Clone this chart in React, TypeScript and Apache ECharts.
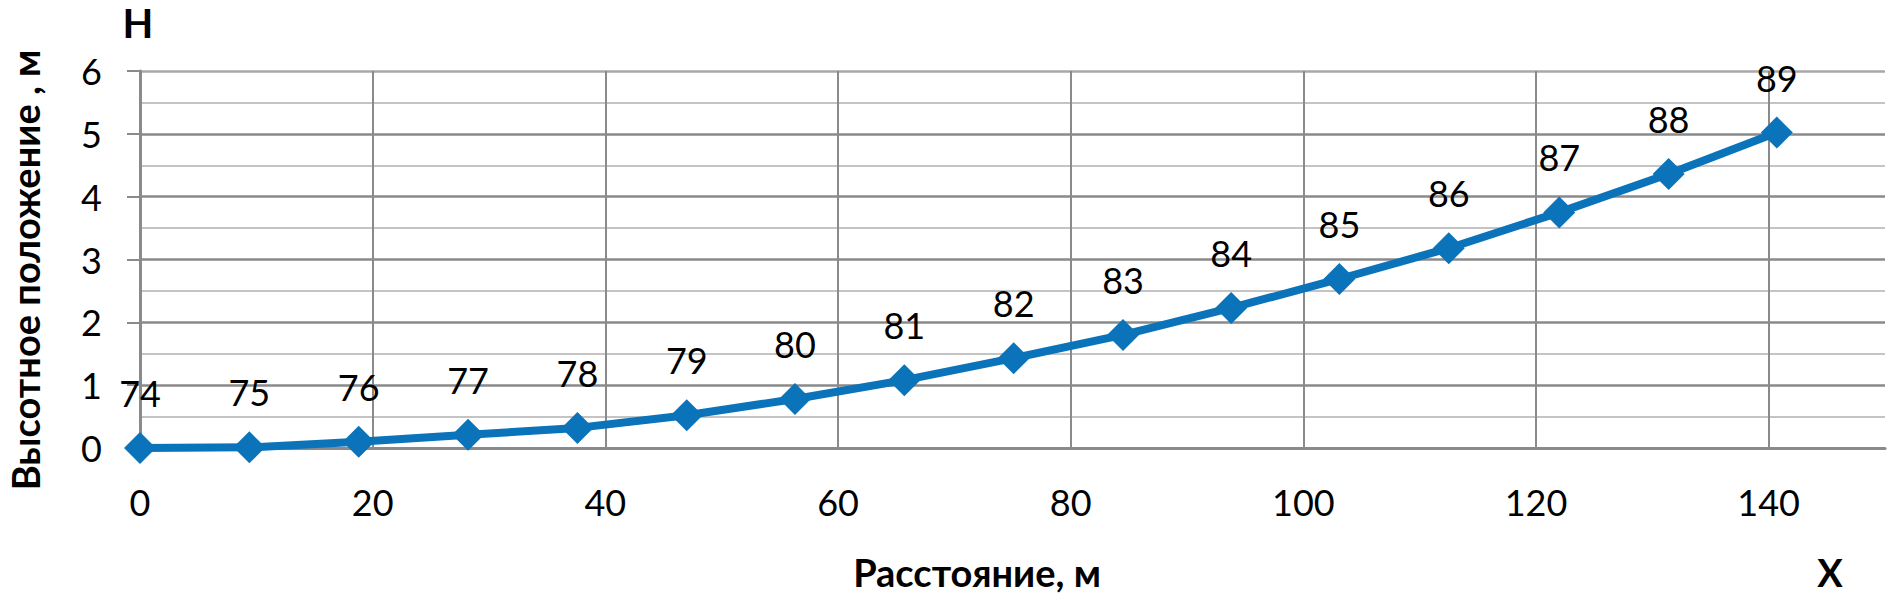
import React, { useEffect, useRef } from "react";
import * as echarts from "echarts";

const distances = [0, 9.4, 18.8, 28.2, 37.6, 47.0, 56.3, 65.7, 75.1, 84.5, 93.8, 103.1, 112.5, 122.0, 131.4, 140.7];
const heights = [0, 0.01, 0.1, 0.21, 0.32, 0.52, 0.78, 1.08, 1.43, 1.8, 2.23, 2.69, 3.18, 3.75, 4.36, 5.02];
const pointLabels = ["74", "75", "76", "77", "78", "79", "80", "81", "82", "83", "84", "85", "86", "87", "88", "89"];

const yTitle = "Высотное положение , м";
const xTitle = "Расстояние, м";
const yCorner = "Н";
const xCorner = "X";

const FONT = "Lato, 'Open Sans', sans-serif";
const GRID = "#8a8a8a";

export default function App() {
  const ref = useRef<HTMLDivElement>(null);
  useEffect(() => {
    if (!ref.current) return;
    const chart = echarts.init(ref.current, null, { renderer: "svg" });
    chart.setOption({
      animation: false,
      backgroundColor: "#ffffff",
      textStyle: { fontFamily: FONT },
      grid: { left: 140, top: 71, right: 4, bottom: 153, containLabel: false },
      xAxis: {
        type: "value",
        min: 0,
        max: 150,
        interval: 20,
        axisLine: { show: true, lineStyle: { color: GRID, width: 3 } },
        axisTick: { show: false },
        axisLabel: { margin: 36, fontSize: 36, color: "#000", fontFamily: FONT, showMaxLabel: false },
        splitLine: {
          show: true,
          lineStyle: {
            color: [GRID, GRID, GRID, GRID, GRID, GRID, GRID, GRID, "rgba(0,0,0,0)"],
            width: 2,
          },
        },
      },
      yAxis: {
        type: "value",
        min: 0,
        max: 6,
        interval: 1,
        axisLine: { show: true, lineStyle: { color: GRID, width: 3 } },
        axisTick: { show: true, length: 13, lineStyle: { color: GRID, width: 2 } },
        axisLabel: { margin: 38, fontSize: 36, color: "#000", fontFamily: FONT },
        splitLine: {
          show: true,
          lineStyle: { color: [GRID, GRID, GRID, GRID, GRID, GRID, "#a8a8a8"], width: 2.5 },
        },
        minorTick: { show: false, splitNumber: 2 },
        minorSplitLine: { show: true, lineStyle: { color: "#c4c4c4", width: 2 } },
      },
      series: [
        {
          type: "line",
          data: distances.map((x, i) => [x, heights[i]]),
          symbol: "diamond",
          symbolSize: 32,
          lineStyle: { color: "#0a73b9", width: 8 },
          itemStyle: { color: "#0a73b9" },
          label: {
            show: true,
            position: "top",
            distance: 21,
            fontSize: 36,
            color: "#000",
            fontFamily: FONT,
            formatter: (p: any) => pointLabels[p.dataIndex],
          },
        },
      ],
      graphic: [
        {
          type: "text",
          x: 138,
          y: 23,
          style: { text: yCorner, font: `bold 40px ${FONT}`, fill: "#000", textAlign: "center", textVerticalAlign: "middle" },
        },
        {
          type: "text",
          x: 1830,
          y: 572,
          style: { text: xCorner, font: `bold 38px ${FONT}`, fill: "#000", textAlign: "center", textVerticalAlign: "middle" },
        },
        {
          type: "text",
          x: 977,
          y: 572,
          style: { text: xTitle, font: `bold 38px ${FONT}`, fill: "#000", textAlign: "center", textVerticalAlign: "middle" },
        },
        {
          type: "text",
          x: 25,
          y: 270,
          rotation: Math.PI / 2,
          style: { text: yTitle, font: `bold 38px ${FONT}`, fill: "#000", textAlign: "center", textVerticalAlign: "middle" },
        },
      ],
    });
    return () => chart.dispose();
  }, []);
  return (
    <div
      ref={ref}
      style={{ position: "absolute", left: 0, top: 0, width: 1889, height: 601 }}
    />
  );
}
